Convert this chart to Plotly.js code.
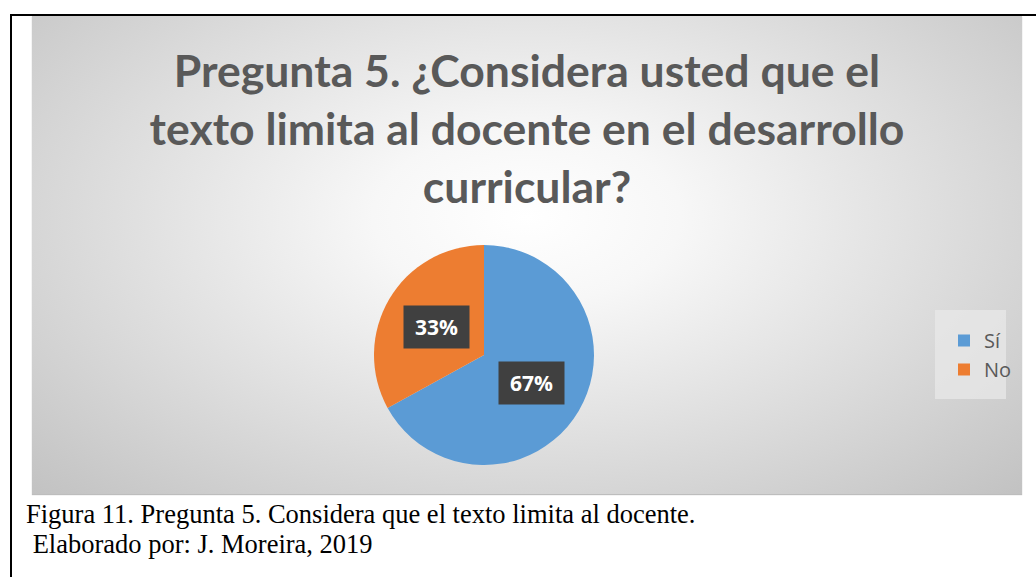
<!DOCTYPE html>
<html>
<head>
<meta charset="utf-8">
<script src="https://cdn.plot.ly/plotly-3.0.1.min.js"></script>
<style>
html,body{margin:0;padding:0;background:#fff;}
#wrap{position:relative;width:1036px;height:577px;overflow:hidden;}
#bg{position:absolute;left:32px;top:16px;width:990px;height:478px;
background:radial-gradient(ellipse farthest-corner at 50% 42%, #ffffff 0%, #f7f7f7 22%, #c2c2c2 100%);
box-shadow:0 1px 1px #bdbdbd;}
#chart{position:absolute;left:0;top:0;width:1036px;height:577px;}
</style>
</head>
<body>
<div id="wrap"><div id="bg"></div><div id="chart"></div></div>
<script>
const categories = ["Sí", "No"];
const values = [67, 33];
const colors = ["#5B9BD5", "#ED7D31"];
const titleText = "Pregunta 5. ¿Considera usted que el<br>texto limita al docente en el desarrollo<br>curricular?";
const captionLines = ["Figura 11. Pregunta 5. Considera que el texto limita al docente.", " Elaborado por: J. Moreira, 2019"];

const W = 1036, H = 577;
const cx = 484, cy = 355, R = 110;
const px = v => v / W, py = v => 1 - v / H;

const total = values.reduce((a, b) => a + b, 0);
let cum = 0;
const labelAnns = values.map((v, i) => {
  const mid = (cum + v / 2) / total * 2 * Math.PI;
  cum += v;
  const x = cx + 0.5 * R * Math.sin(mid);
  const y = cy - 0.5 * R * Math.cos(mid);
  return {
    x: px(x), y: py(y), xref: 'paper', yref: 'paper', showarrow: false,
    text: '<b>' + Math.round(v / total * 100) + '%</b>',
    font: {family: 'Open Sans', size: 21, color: '#ffffff'},
    bgcolor: '#404040', width: 63, height: 40, xanchor: 'center', yanchor: 'middle'
  };
});

const data = [{
  type: 'pie', labels: categories, values: values, sort: false,
  direction: 'clockwise', rotation: 0,
  marker: {colors: colors, line: {width: 0}},
  textinfo: 'none', hoverinfo: 'label+percent',
  domain: {x: [px(cx - R), px(cx + R)], y: [py(cy + R), py(cy - R)]}
}];

const layout = {
  width: W, height: H, margin: {l: 0, r: 0, t: 0, b: 0},
  paper_bgcolor: 'rgba(0,0,0,0)', plot_bgcolor: 'rgba(0,0,0,0)',
  title: {text: titleText, x: px(527), xanchor: 'center', y: py(87), yanchor: 'middle',
    font: {family: 'Lato', size: 44.5, weight: 700, color: '#595959'}},
  showlegend: true,
  legend: {x: px(944), xanchor: 'left', y: py(355), yanchor: 'middle',
    bgcolor: 'rgba(0,0,0,0)', font: {family: 'Open Sans', size: 20, color: '#595959'},
    itemwidth: 30},
  shapes: [
    {type: 'rect', xref: 'paper', yref: 'paper', x0: px(935), x1: px(1006), y0: py(399), y1: py(310),
      fillcolor: 'rgba(232,232,232,0.75)', line: {width: 0}, layer: 'below'},
    {type: 'line', xref: 'paper', yref: 'paper', x0: px(10), x1: 1, y0: py(15), y1: py(15), line: {color: '#000', width: 2}},
    {type: 'line', xref: 'paper', yref: 'paper', x0: px(11), x1: px(11), y0: py(15), y1: 0, line: {color: '#000', width: 2}}
  ],
  annotations: labelAnns.concat([
    {x: px(24), y: py(514), xref: 'paper', yref: 'paper', showarrow: false, xanchor: 'left', yanchor: 'middle',
      text: captionLines[0], font: {family: 'Liberation Serif', size: 26.5, color: '#000'}},
    {x: px(24), y: py(544), xref: 'paper', yref: 'paper', showarrow: false, xanchor: 'left', yanchor: 'middle',
      text: captionLines[1].replace(/^ /, '&nbsp;'), font: {family: 'Liberation Serif', size: 26.5, color: '#000'}}
  ])
};

Plotly.newPlot('chart', data, layout, {displayModeBar: false, staticPlot: true});
</script>
</body>
</html>
